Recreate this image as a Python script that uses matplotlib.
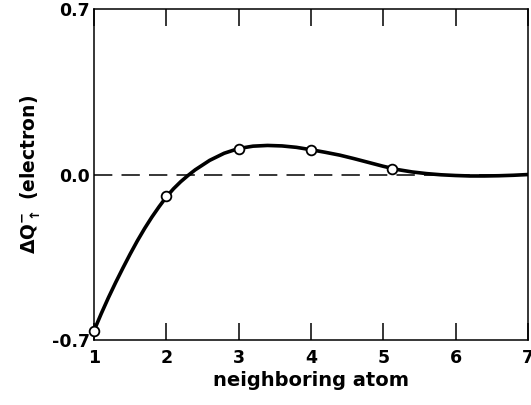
import matplotlib
matplotlib.use("Agg")
import matplotlib.pyplot as plt

plt.rcParams.update({
    "font.family": "DejaVu Sans",
    "font.weight": "bold",
    "axes.labelweight": "bold",
    "font.size": 13,
    "mathtext.default": "bf",
})

# smooth curve
curve_x = [1.0, 1.1, 1.2, 1.3, 1.4, 1.5, 1.6, 1.7, 1.8, 1.9, 2.0, 2.1, 2.2, 2.3,
           2.4, 2.6, 2.8, 3.0, 3.2, 3.4, 3.6, 3.8, 4.0, 4.2, 4.4, 4.6, 4.8,
           5.0, 5.2, 5.4, 5.6, 5.8, 6.0, 6.2, 6.4, 6.6, 6.8, 7.0]
curve_y = [-0.66, -0.588, -0.52, -0.456, -0.395, -0.336, -0.28, -0.228, -0.18,
           -0.136, -0.095, -0.06, -0.03, -0.004, 0.02, 0.06, 0.09, 0.11, 0.12,
           0.123, 0.121, 0.115, 0.105, 0.094, 0.082, 0.067, 0.051, 0.035, 0.021,
           0.011, 0.004, -0.001, -0.004, -0.006, -0.006, -0.005, -0.003, 0.0]

# computed values (open circles)
atom_x = [1, 2, 3, 4, 5.12]
atom_q = [-0.66, -0.09, 0.11, 0.105, 0.025]

x_ticks = [1, 2, 3, 4, 5, 6, 7]
y_ticks = [-0.7, 0.0, 0.7]
y_tick_labels = ["-0.7", "0.0", "0.7"]

fig = plt.figure(figsize=(5.31, 4.05), dpi=100)
ax = fig.add_axes([0.177, 0.160, 0.817, 0.818])

ax.axhline(0, color="black", lw=1.1, dashes=(12, 6), zorder=1)
ax.plot(curve_x, curve_y, color="black", lw=2.6, solid_joinstyle="round",
        solid_capstyle="round", zorder=2)
ax.plot(atom_x, atom_q, "o", ms=7, mfc="white", mec="black", mew=1.3,
        zorder=3, clip_on=False)

ax.set_xlim(1, 7)
ax.set_ylim(-0.7, 0.7)
ax.set_xticks(x_ticks)
ax.set_yticks(y_ticks)
ax.set_yticklabels(y_tick_labels)

ax.tick_params(axis="x", direction="in", length=12, width=1.1, top=True,
               pad=6, labelsize=12.5)
ax.tick_params(axis="y", length=0, pad=3, labelsize=12.5)
for sp in ax.spines.values():
    sp.set_linewidth(1.1)

ax.set_xlabel("neighboring atom", fontsize=14, labelpad=3)
ax.set_ylabel(r"$\Delta Q_{\uparrow}^{-}$ (electron)", fontsize=13.5, labelpad=6)

fig.savefig("out.png", dpi=100)
